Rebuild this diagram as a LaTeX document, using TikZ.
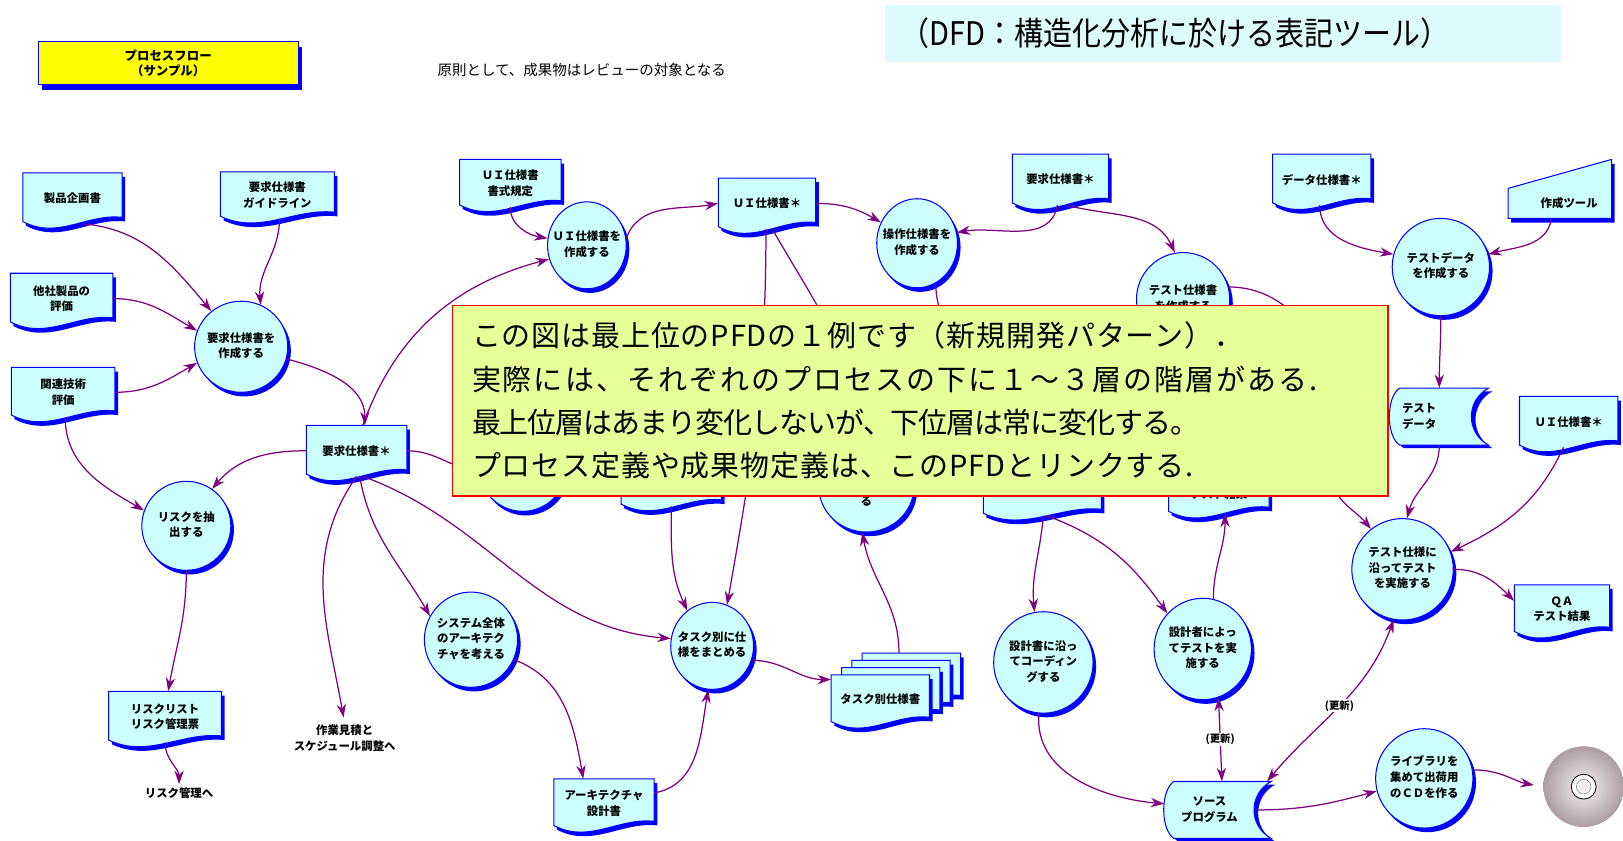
\documentclass[tikz,border=0pt]{standalone}
\usepackage{fontspec}
\usepackage{graphicx}
\setmainfont{Noto Sans CJK JP}
\usetikzlibrary{shapes.geometric,shadows,arrows.meta,calc}

\definecolor{docfill}{RGB}{204,255,255}
\definecolor{edgeblue}{RGB}{0,0,255}
\definecolor{flowpurple}{RGB}{128,0,128}
\definecolor{notefill}{RGB}{229,255,153}
\definecolor{dfdfill}{RGB}{221,250,252}
\definecolor{titleyellow}{RGB}{255,255,0}

\newcommand\pfdnodefont{\fontsize{11}{15}\selectfont\bfseries}
% centred multi-line text that does not widen an ellipse
\newcommand\ctext[1]{\makebox[0pt]{\begin{tabular}{@{}c@{}}#1\end{tabular}}}
% document symbol: centre x, centre y, width, height
\newcommand\docpath[4]{({#1-#3/2},{#2+#4/2}) -- ({#1+#3/2},{#2+#4/2}) -- ({#1+#3/2},{#2-#4/2+12}) .. controls ({#1+#3*0.15},{#2-#4/2+16}) and ({#1-#3*0.15},{#2-#4/2-10}) .. ({#1-#3/2},{#2-#4/2+8}) -- cycle}
% stored data symbol: left x, right x, bottom y, top y
\newcommand\storepath[4]{({#1+9},#4) -- (#2,#4) .. controls ({#2-22},{#4-12}) and ({#2-22},{#3+12}) .. (#2,#3) -- ({#1+9},#3) .. controls ({#1-4},{#3+9}) and ({#1-4},{#4-9}) .. ({#1+9},#4) -- cycle}
% named document node: name, cx, cy, w, h, text
\newcommand\docnode[6]{%
  \fill[edgeblue, shift={(3,-4)}] \docpath{#2}{#3}{#4}{#5};
  \filldraw[docshape] \docpath{#2}{#3}{#4}{#5};
  \node[doctext, minimum width=#4pt, minimum height={#5pt-6pt}] (#1) at (#2,{#3+3}) {#6};}

\begin{document}
\begin{tikzpicture}[x=1pt,y=1pt,
  flow/.style={draw=flowpurple, line width=1.2pt, -{Stealth[length=13pt,width=9pt]}},
  flowboth/.style={draw=flowpurple, line width=1.2pt, {Stealth[length=13pt,width=9pt]}-{Stealth[length=13pt,width=9pt]}},
  docshape/.style={fill=docfill, draw=edgeblue, line width=1pt},
  doctext/.style={inner sep=0pt, align=center, font=\pfdnodefont},
  proc/.style={ellipse, draw=edgeblue, line width=1pt, fill=docfill, inner sep=0pt, font=\pfdnodefont,
    drop shadow={shadow xshift=3pt, shadow yshift=-4pt, fill=edgeblue, opacity=1}},
  plain/.style={inner sep=1pt, align=center, font=\pfdnodefont},
  upd/.style={fill=white, inner sep=1pt, font=\fontsize{10}{12}\selectfont\bfseries},
  titlebox/.style={rectangle, fill=titleyellow, draw=edgeblue, line width=1pt, minimum width=251pt,
    minimum height=42pt, align=center, font=\fontsize{12}{15}\selectfont\bfseries,
    drop shadow={shadow xshift=4pt, shadow yshift=-5pt, fill=edgeblue, opacity=1}},
  dfdbox/.style={fill=dfdfill, minimum width=653pt, minimum height=55pt, text width=623pt,
    inner xsep=15pt, align=left, font=\fontsize{28}{32}\selectfont},
  note/.style={draw=red, line width=1.6pt, fill=notefill, minimum width=904pt, minimum height=184pt,
    text width=866pt, inner xsep=19pt, align=left, font=\fontsize{28}{41.7}\selectfont},
]
\useasboundingbox (0,0) rectangle (1568,812);

% headings
\node[titlebox] (title) at (162.5,751) {プロセスフロー\\（サンプル）};
\node[inner sep=0pt, font=\fontsize{14}{16}\selectfont] (rule) at (562,744) {原則として、成果物はレビューの対象となる};
\node[dfdbox] (dfd) at (1181.5,780) {\scalebox{1}[1.12]{（DFD：構造化分析に於ける表記ツール）}};

% documents
\docnode{D1}{70}{617.5}{96}{55}{製品企画書}
\docnode{D2}{268}{620.5}{110}{51}{要求仕様書\\ガイドライン}
\docnode{D3}{59.5}{520.5}{99}{55}{他社製品の\\評価}
\docnode{D4}{61}{430}{100}{54}{関連技術\\評価}
\docnode{D5}{493}{632}{98}{52}{ＵＩ仕様書\\書式規定}
\docnode{D6}{741}{612.5}{94}{55}{ＵＩ仕様書＊}
\docnode{D7}{1024.5}{635.5}{93}{55}{要求仕様書＊}
\docnode{D8}{1277}{635.5}{95}{55}{データ仕様書＊}
\docnode{D9}{344.5}{373.5}{97}{55}{要求仕様書＊}
\docnode{D10}{159.5}{116.5}{109}{55}{リスクリスト\\リスク管理票}
\docnode{D11}{583.5}{33}{97}{53}{アーキテクチャ\\設計書}
\docnode{D12}{1509}{220.5}{92}{53}{ＱＡ\\テスト結果}
\docnode{D13}{1515.5}{401.5}{95}{55}{ＵＩ仕様書＊}
\docnode{H1}{648.5}{347}{97}{60}{}
\docnode{H2}{1007}{338}{114}{60}{}
\docnode{H3}{1177.5}{340}{97}{60}{\raisebox{-13pt}[0pt][0pt]{テスト結果}}
\docnode{H4}{1287.5}{377}{95}{60}{}

% manual input
\fill[edgeblue, shift={(3,-4)}] (1457,601) -- (1457,630) -- (1557,658) -- (1557,601) -- cycle;
\filldraw[docshape] (1457,601) -- (1457,630) -- (1557,658) -- (1557,601) -- cycle;
\node[doctext, minimum width=100pt, minimum height=30pt] (T) at (1507,616) {\hspace*{18pt}作成ツール};

% stored data
\fill[edgeblue, shift={(4,-3)}] \storepath{1343}{1438}{382}{437};
\filldraw[docshape] \storepath{1343}{1438}{382}{437};
\node[doctext, minimum width=95pt, minimum height=55pt] (S1) at (1390.5,409.5) {\hspace*{-36pt}テスト\\\hspace*{-36pt}データ};
\fill[edgeblue, shift={(4,-3)}] \storepath{1125}{1228}{2}{57};
\filldraw[docshape] \storepath{1125}{1228}{2}{57};
\node[doctext, minimum width=103pt, minimum height=55pt] (S2) at (1176.5,29.5) {\hspace*{-16pt}ソース\\\hspace*{-16pt}プログラム};

% stacked documents
\foreach \k in {3,2,1,0}{
  \fill[edgeblue, shift={({10*\k+3},{7*\k-4})}] \docpath{850.5}{133.5}{95}{53};
  \filldraw[docshape, shift={({10*\k},{7*\k})}] \docpath{850.5}{133.5}{95}{53};
}
\node[doctext, minimum width=95pt, minimum height=47pt] (TS) at (850.5,136.5) {タスク別仕様書};

% processes
\node[proc, minimum width=90pt, minimum height=88pt] (C1) at (233,477) {\ctext{要求仕様書を\\作成する}};
\node[proc, minimum width=76pt, minimum height=84pt] (C2) at (567,575) {\ctext{ＵＩ仕様書を\\作成する}};
\node[proc, minimum width=78pt, minimum height=86pt] (C3) at (886,577) {\ctext{操作仕様書を\\作成する}};
\node[proc, minimum width=90pt, minimum height=90pt] (C4) at (1143,523) {\ctext{テスト仕様書\\を作成する}};
\node[proc, minimum width=94pt, minimum height=94pt] (C5) at (1392,554) {\ctext{テストデータ\\を作成する}};
\node[proc, minimum width=86pt, minimum height=86pt] (C6) at (180,304) {\ctext{リスクを抽\\出する}};
\node[proc, minimum width=90pt, minimum height=92pt] (C7) at (455,194) {\ctext{システム全体\\のアーキテク\\チャを考える}};
\node[proc, minimum width=80pt, minimum height=84pt] (C8) at (688,188) {\ctext{タスク別に仕\\様をまとめる}};
\node[proc, minimum width=84pt, minimum height=84pt] (C9) at (505,360) {};
\node[proc, minimum width=92pt, minimum height=88pt] (C10) at (837,342) {\raisebox{-18pt}[0pt][0pt]{る}};
\node[proc, minimum width=96pt, minimum height=98pt] (C11) at (1008,172) {\ctext{設計書に沿っ\\てコーディン\\グする}};
\node[proc, minimum width=94pt, minimum height=98pt] (C12) at (1162,185) {\ctext{設計者によっ\\てテストを実\\施する}};
\node[proc, minimum width=98pt, minimum height=98pt] (C13) at (1355,262) {\ctext{テスト仕様に\\沿ってテスト\\を実施する}};
\node[proc, minimum width=94pt, minimum height=96pt] (C14) at (1376,60) {\ctext{ライブラリを\\集めて出荷用\\のＣＤを作る}};

% free text
\node[plain] (rk) at (173,46) {リスク管理へ};
\node[plain] (est) at (333,99) {作業見積と\\スケジュール調整へ};

% disc
\node[circle, minimum size=78pt, inner sep=0pt] (cd) at (1530,52) {};
\shade[inner color={rgb,255:red,246;green,242;blue,242}, outer color={rgb,255:red,172;green,156;blue,160}] (cd.center) circle (39pt);
\fill[white] (cd.center) circle (12pt);
\draw[black, line width=0.8pt] (cd.center) circle (12pt);
\draw[gray, line width=0.6pt] (cd.center) circle (7pt);
\fill[gray!15] (cd.center) circle (5pt);

% data flows
\draw[flow] ([xshift=10pt]D1.south) to[out=-5,in=130] (C1.130);
\draw[flow] ([xshift=2pt]D2.south) to[out=-90,in=95] (C1.65);
\draw[flow] (D3.east) to[out=0,in=150] (C1.160);
\draw[flow] (D4.east) to[out=0,in=-150] (C1.200);
\draw[flow] (C1.-15) to[out=-15,in=90] ([xshift=8pt]D9.north);
\draw[flow] (D9.west) to[out=180,in=50] (C6.55);
\draw[flow] ([xshift=2pt]D4.south) to[out=-90,in=150] (C6.160);
\draw[flow] (C6.south) to[out=-90,in=80] ([xshift=3pt]D10.north);
\draw[flow, shorten >=2pt] (D10.south) to[out=-90,in=90] (rk.north);
\draw[flow, shorten >=6pt] (D9.south) to[out=-125,in=100] (est.north);
\draw[flow] ([xshift=3pt]D9.south) to[out=-80,in=120] (C7.150);
\draw[flow] ([xshift=6pt]D9.south) to[out=-20,in=175] (C8.170);
\draw[flow] ([xshift=6pt]D9.north) to[out=70,in=195] (C2.200);
\draw[flow] (D9.east) to[out=0,in=180] (C9.west);
\draw[flow] (D5.south) to[out=-90,in=170] (C2.170);
\draw[flow] (C2.10) to[out=70,in=190] (D6.west);
\draw[flow] (D6.east) to[out=0,in=150] (C3.150);
\draw[flow] ([xshift=-3pt]D7.south) to[out=-100,in=10] (C3.15);
\draw[flow] ([xshift=6pt]D7.south) to[out=-15,in=115] (C4.100);
\draw[flow] ([xshift=-2pt]D8.south) to[out=-90,in=170] (C5.165);
\draw[flow] ([xshift=-8pt]T.south) to[out=-100,in=15] (C5.15);
\draw[flow] (C5.south) to[out=-90,in=90] (S1.north);
\draw[flow] (C4.15) to[out=0,in=90] (H4.north);
\draw[flow] (H4.south) to[out=-90,in=130] (C13.128);
\draw[flow] (S1.south) to[out=-90,in=75] (C13.85);
\draw[flow] ([xshift=-5pt]D13.south) to[out=-115,in=25] (C13.20);
\draw[flow] (C13.east) to[out=0,in=135] ([yshift=8pt]D12.west);
\draw[flow] ([xshift=1pt]H2.south) to[out=-95,in=95] (C11.100);
\draw[flow] ([xshift=4pt]H2.south) to[out=-20,in=125] (C12.135);
\draw[flow] (C12.78) to[out=90,in=-90] ([xshift=6pt]H3.south);
\draw[flow] (C11.-95) to[out=-95,in=175] ([yshift=6pt]S2.west);
\draw[flowboth] ([xshift=4pt]S2.north) -- node[upd]{(更新)} (C12.-72);
\draw[flowboth] ([xshift=-4pt]S2.north east) to[out=50,in=-110] node[upd,pos=0.5]{(更新)} (C13.-100);
\draw[flow] ([xshift=-15pt]S2.east) to[out=0,in=195] (C14.195);
\draw[flow, shorten >=9pt] (C14.10) to[out=0,in=170] (cd.west);
\draw[flow] (C8.-20) to[out=0,in=180] ([yshift=19pt]TS.west);
\draw[flow] ([shift={(18pt,21pt)}]TS.north) to[out=90,in=-80] (C10.-95);
\draw[flow] (H1.south) to[out=-90,in=115] (C8.125);
\draw[flow] ([xshift=-1pt]D6.south) to[out=-90,in=80] (C8.70);
\draw[flow] ([xshift=5pt]D6.south) to[out=-60,in=100] (C10.north);
\draw[flow] (C3.-65) to[out=-90,in=90] (H2.north);
\draw[flow] (C7.-25) to[out=-20,in=100] ([xshift=-20pt]D11.north);
\draw[flow] ([yshift=10pt]D11.east) to[out=10,in=-100] (C8.-95);

% explanatory note on top
\node[note] (note) at (889,425) {{\addfontfeature{LetterSpace=3}この図は最上位のPFDの１例です（新規開発パターン）．}\\
{\addfontfeature{LetterSpace=7}実際には、それぞれのプロセスの下に１〜３層の階層がある.}\\
{\addfontfeature{LetterSpace=-3.5}最上位層はあまり変化しないが、下位層は常に変化する。}\\
{\addfontfeature{LetterSpace=3}プロセス定義や成果物定義は、このPFDとリンクする.}};
\end{tikzpicture}
\end{document}
